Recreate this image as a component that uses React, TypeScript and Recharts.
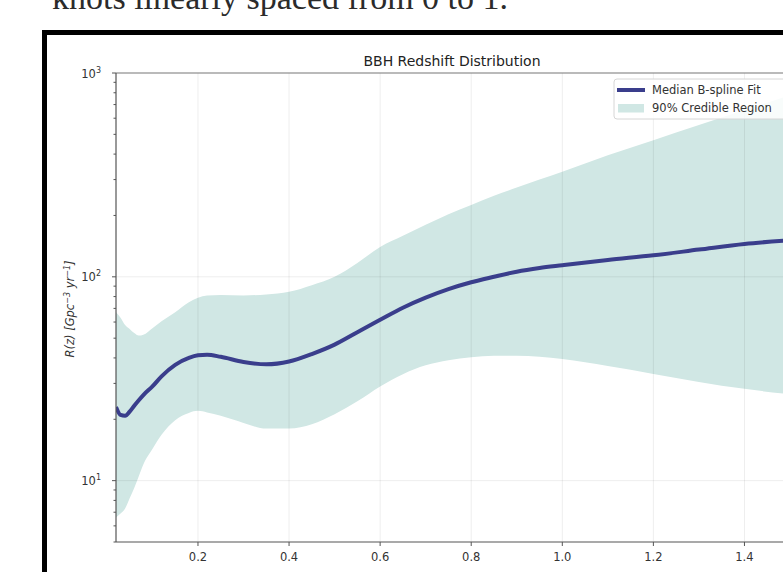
import React from 'react';
import { ComposedChart, Line, Area, XAxis, YAxis, ReferenceLine } from 'recharts';

// ---- data ----
const zValues = [
  0.02, 0.03, 0.04, 0.05, 0.06, 0.07, 0.08, 0.1, 0.12, 0.15, 0.18, 0.2, 0.22, 0.25, 0.3, 0.35, 0.4,
  0.45, 0.5, 0.55, 0.6, 0.65, 0.7, 0.75, 0.8, 0.85, 0.9, 0.95, 1.0, 1.1, 1.2, 1.3, 1.4, 1.5,
];
const medianValues = [
  23.0, 21.0, 20.8, 21.8, 23.3, 24.8, 26.3, 29.0, 32.5, 37.0, 40.0, 41.2, 41.5, 40.5, 38.2, 37.2, 38.4,
  41.8, 46.5, 53.5, 61.5, 70.5, 79.0, 87.0, 94.0, 100.0, 106.0, 110.5, 114.0, 121.0, 127.5, 136.0, 145.0, 151.0,
];
const lowerValues = [
  6.6, 6.9, 7.3, 8.2, 9.2, 10.5, 12.0, 14.3, 16.8, 19.8, 21.5, 22.0, 21.6, 20.8, 19.2, 18.0, 18.0,
  18.9, 21.2, 24.5, 29.0, 33.3, 36.8, 39.0, 40.3, 41.0, 41.0, 40.5, 39.5, 36.5, 33.4, 30.5, 28.2, 26.5,
];
const upperValues = [
  67, 63, 58, 55.5, 53, 51.5, 52, 56, 60.5, 67, 75, 79, 81, 81.5, 81, 82, 84.5,
  91, 100, 117, 140, 159, 180, 203, 225, 250, 274, 300, 328, 395, 468, 555, 658, 777,
];
const xTicks = [0.2, 0.4, 0.6, 0.8, 1.0, 1.2, 1.4];
const xTickLabels = ['0.2', '0.4', '0.6', '0.8', '1.0', '1.2', '1.4'];
const yMajorTicks = [10, 100, 1000];
const yMinorTicks = [5, 6, 7, 8, 9, 20, 30, 40, 50, 60, 70, 80, 90, 200, 300, 400, 500, 600, 700, 800, 900];
const legendLabels = ['Median B-spline Fit', '90% Credible Region'];
const chartTitle = 'BBH Redshift Distribution';
const pageText = 'knots linearly spaced from 0 to 1.';

const LINE_COLOR = '#3a3e8c';
const BAND_COLOR = '#d0e7e4';
const AXIS_COLOR = '#555555';
const TEXT_COLOR = '#333333';
const FONT = '"DejaVu Sans", sans-serif';

const data = zValues.map((z, i) => ({
  z,
  median: medianValues[i],
  band: [lowerValues[i], upperValues[i]],
}));

const yTicks = [...yMinorTicks, ...yMajorTicks].sort((a, b) => a - b);

const XTick = (props: any) => {
  const { x, y, payload } = props;
  const idx = xTicks.findIndex((t) => Math.abs(t - payload.value) < 1e-9);
  const label = idx >= 0 ? xTickLabels[idx] : String(payload.value);
  return (
    <g>
      <line x1={x} x2={x} y1={y} y2={y + 4} stroke={AXIS_COLOR} strokeWidth={1} />
      <text x={x} y={y + 19} textAnchor="middle" fontSize={11.5} fontFamily={FONT} fill={TEXT_COLOR}>
        {label}
      </text>
    </g>
  );
};

const YTick = (props: any) => {
  const { x, y, payload } = props;
  const v = payload.value;
  const major = yMajorTicks.includes(v);
  const exp = Math.round(Math.log10(v));
  return (
    <g>
      <line x1={x - (major ? 4 : 2.5)} x2={x} y1={y} y2={y} stroke={AXIS_COLOR} strokeWidth={1} />
      {major && (
        <text x={x - 15} y={y + 4.5} textAnchor="end" fontSize={11.5} fontFamily={FONT} fill={TEXT_COLOR}>
          10
          <tspan dy={-5} fontSize={8}>
            {exp}
          </tspan>
        </text>
      )}
    </g>
  );
};

export default function App() {
  return (
    <div
      style={{
        position: 'fixed',
        left: 0,
        top: 0,
        width: 783,
        height: 572,
        overflow: 'hidden',
        background: '#ffffff',
      }}
    >
      <div style={{ position: 'absolute', left: 0, top: 0 }}>
        <ComposedChart
          width={800}
          height={600}
          data={data}
          margin={{ top: 73, right: 10, bottom: 28, left: 56 }}
        >
          <XAxis
            dataKey="z"
            type="number"
            domain={[0.02, 1.5]}
            allowDataOverflow
            ticks={xTicks}
            tick={<XTick />}
            tickLine={false}
            tickSize={0}
            tickMargin={0}
            height={30}
            axisLine={{ stroke: AXIS_COLOR, strokeWidth: 1.2 }}
            interval={0}
          />
          <YAxis
            type="number"
            scale="log"
            domain={[5, 1000]}
            allowDataOverflow
            ticks={yTicks}
            tick={<YTick />}
            tickLine={false}
            tickSize={0}
            tickMargin={0}
            width={60}
            axisLine={{ stroke: AXIS_COLOR, strokeWidth: 1.2 }}
            interval={0}
          />
          <Area
            dataKey="band"
            type="monotone"
            stroke="none"
            fill={BAND_COLOR}
            fillOpacity={1}
            isAnimationActive={false}
            activeDot={false}
          />
          {xTicks.map((t) => (
            <ReferenceLine key={'gx' + t} x={t} stroke="rgba(0,0,0,0.07)" strokeWidth={1} />
          ))}
          {yMajorTicks.slice(0, 2).map((t) => (
            <ReferenceLine key={'gy' + t} y={t} stroke="rgba(0,0,0,0.07)" strokeWidth={1} />
          ))}
          <ReferenceLine y={1000} stroke="#777777" strokeWidth={1.2} />
          <Line
            dataKey="median"
            type="monotone"
            stroke={LINE_COLOR}
            strokeWidth={4}
            dot={false}
            activeDot={false}
            isAnimationActive={false}
          />
        </ComposedChart>
      </div>

      <svg
        width={783}
        height={572}
        style={{ position: 'absolute', left: 0, top: 0, pointerEvents: 'none' }}
      >
        <text x={52} y={9} fontSize={34} fontFamily='"Liberation Serif", serif' fill="#2b2b2b">
          {pageText}
        </text>

        <text x={452} y={66} textAnchor="middle" fontSize={14} fontFamily={FONT} fill="#222222">
          {chartTitle}
        </text>

        <text
          transform="translate(74,309) rotate(-90)"
          textAnchor="middle"
          fontSize={11.5}
          fontStyle="italic"
          fontFamily={FONT}
          fill={TEXT_COLOR}
        >
          R(z) [Gpc
          <tspan dy={-4} fontSize={8}>
            −3
          </tspan>
          <tspan dy={4}> yr</tspan>
          <tspan dy={-4} fontSize={8}>
            −1
          </tspan>
          <tspan dy={4}>]</tspan>
        </text>

        <text x={453} y={580} textAnchor="middle" fontSize={13} fontStyle="italic" fontFamily={FONT} fill={TEXT_COLOR}>
          z
        </text>

        <g>
          <rect
            x={614}
            y={79}
            width={180}
            height={40}
            rx={3}
            fill="rgba(255,255,255,0.85)"
            stroke="#d6d6d6"
            strokeWidth={1}
          />
          <line x1={617} x2={645} y1={90} y2={90} stroke={LINE_COLOR} strokeWidth={4} />
          <text x={652} y={93.5} fontSize={11.5} fontFamily={FONT} fill={TEXT_COLOR}>
            {legendLabels[0]}
          </text>
          <rect x={618} y={104} width={26} height={8.5} fill={BAND_COLOR} />
          <text x={652} y={112} fontSize={11.5} fontFamily={FONT} fill={TEXT_COLOR}>
            {legendLabels[1]}
          </text>
        </g>
      </svg>

      <div
        style={{
          position: 'absolute',
          left: 42,
          top: 30,
          width: 800,
          height: 600,
          border: '5px solid #000000',
          pointerEvents: 'none',
        }}
      />
    </div>
  );
}
